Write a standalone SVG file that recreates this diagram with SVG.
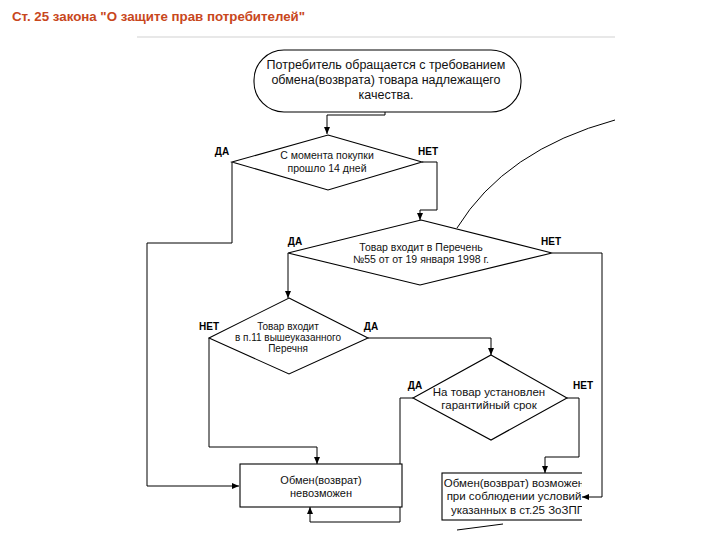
<svg xmlns="http://www.w3.org/2000/svg" width="720" height="540" viewBox="0 0 720 540">
<defs>
<marker id="arr" markerUnits="userSpaceOnUse" markerWidth="8" markerHeight="6" refX="7" refY="3" orient="auto">
<path d="M0,0 L7,3 L0,6 z" fill="#000"/>
</marker>
<clipPath id="cut"><rect x="0" y="0" width="582" height="540"/></clipPath>
<style>
.sh{fill:#fff;stroke:#000;stroke-width:1.1}
.ln{fill:none;stroke:#000;stroke-width:1}
.t{font-family:"Liberation Sans Narrow","Liberation Sans",Arial,sans-serif;fill:#111;text-anchor:middle}
.lb{font-family:"Liberation Sans",Arial,sans-serif;font-weight:bold;font-size:10px;fill:#000;text-anchor:middle}
</style>
</defs>
<rect width="720" height="540" fill="#fff"/>
<text x="12" y="21" font-family="Liberation Sans, Arial, sans-serif" font-weight="bold" font-size="13.3" fill="#c8471c">Ст. 25 закона "О защите прав потребителей"</text>
<line x1="137" y1="37" x2="615" y2="37" stroke="#e8e8e8" stroke-width="2"/>

<g id="connectors">
<path class="ln" d="M385,112 V115 H327 V134" marker-end="url(#arr)"/>
<path class="ln" d="M422,162 H437 V210 H420 V220" marker-end="url(#arr)"/>
<path class="ln" d="M232,162 V243 H147 V486 H239" marker-end="url(#arr)"/>
<path class="ln" d="M288,253 V298" marker-end="url(#arr)"/>
<path class="ln" d="M552,253 H602 V497 H582" marker-end="url(#arr)"/>
<path class="ln" d="M368,338 H491 V355" marker-end="url(#arr)"/>
<path class="ln" d="M209,338 V447 H317 V464" marker-end="url(#arr)"/>
<path class="ln" d="M413,398 H400 V522 H310 V507" marker-end="url(#arr)"/>
<path class="ln" d="M567,398 H579 V457 H545 V473" marker-end="url(#arr)"/>
<path class="ln" d="M457,228 Q505,150 615,120"/>
<path class="ln" d="M457,530 L503,524"/>
</g>

<g id="start">
<rect class="sh" x="254" y="50" width="267" height="62" rx="30" ry="30"/>
<text class="t" font-size="12.5"><tspan x="386" y="69">Потребитель обращается с требованием</tspan><tspan x="386" y="84">обмена(возврата) товара надлежащего</tspan><tspan x="386" y="99">качества.</tspan></text>
</g>

<g id="d1">
<polygon class="sh" points="328,135 422,162 328,190 232,162"/>
<text class="t" font-size="10.5"><tspan x="327" y="159">С момента покупки</tspan><tspan x="327" y="172">прошло 14 дней</tspan></text>
<text class="lb" x="222" y="155">ДА</text>
<text class="lb" x="428" y="155">НЕТ</text>
</g>

<g id="d2">
<polygon class="sh" points="421,220 552,253 420,285 288,253"/>
<text class="t" font-size="10.5"><tspan x="421" y="251">Товар входит в Перечень</tspan><tspan x="421" y="263">№55 от от 19 января 1998 г.</tspan></text>
<text class="lb" x="295" y="245">ДА</text>
<text class="lb" x="551" y="245">НЕТ</text>
</g>

<g id="d3">
<polygon class="sh" points="289,298 368,338 289,374 209,338"/>
<text class="t" font-size="10"><tspan x="288" y="330">Товар входит</tspan><tspan x="288" y="341">в п.11 вышеуказанного</tspan><tspan x="288" y="352">Перечня</tspan></text>
<text class="lb" x="209" y="330">НЕТ</text>
<text class="lb" x="371" y="330">ДА</text>
</g>

<g id="d4">
<polygon class="sh" points="491,355 567,398 491,440 413,398"/>
<text class="t" font-size="11.5"><tspan x="489" y="396">На товар установлен</tspan><tspan x="489" y="409">гарантийный срок</tspan></text>
<text class="lb" x="415" y="389">ДА</text>
<text class="lb" x="583" y="389">НЕТ</text>
</g>

<g id="no-exchange">
<rect class="sh" x="240" y="464" width="162" height="43"/>
<text class="t" font-size="11"><tspan x="321" y="484">Обмен(возврат)</tspan><tspan x="321" y="497">невозможен</tspan></text>
</g>

<g id="exchange" clip-path="url(#cut)">
<rect class="sh" x="442" y="473" width="160" height="47"/>
<text class="t" font-size="11.5"><tspan x="514" y="487">Обмен(возврат) возможен</tspan><tspan x="514" y="500">при соблюдении условий</tspan><tspan x="518" y="514">указанных в ст.25 ЗоЗПП</tspan></text>
</g>
</svg>
